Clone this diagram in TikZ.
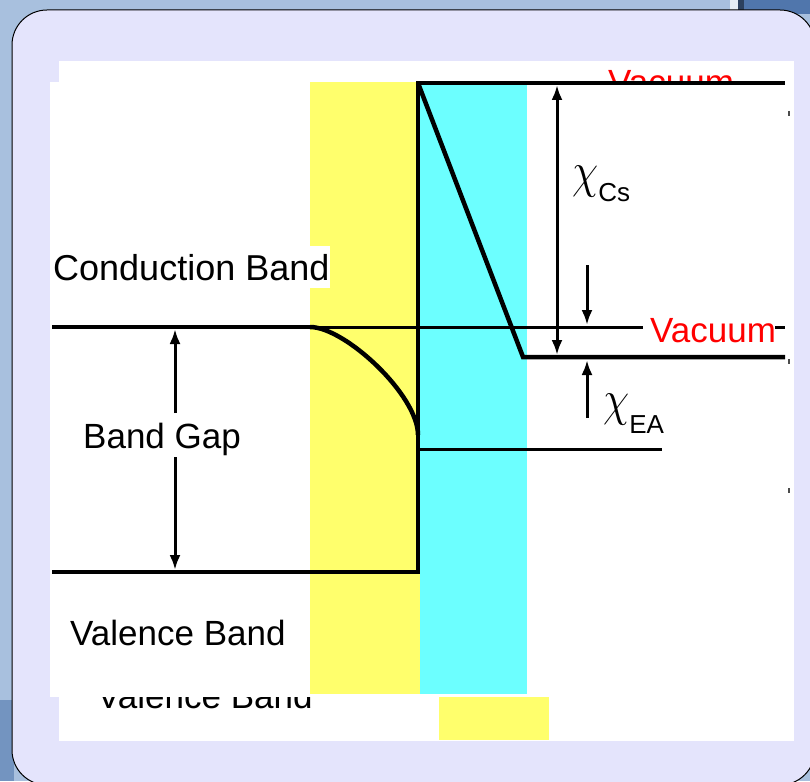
\documentclass[tikz,border=0pt]{standalone}
\usepackage{fix-cm}
\usepackage{fontspec}
\setmainfont{Liberation Sans}
\usetikzlibrary{arrows.meta}

\definecolor{slidebg}{RGB}{168,192,222}
\definecolor{slidedark}{RGB}{80,118,172}
\definecolor{panel}{RGB}{228,228,252}
\definecolor{csyellow}{RGB}{255,255,108}
\definecolor{diacyan}{RGB}{108,255,255}
\definecolor{vacred}{RGB}{255,0,0}

\begin{document}
\begin{tikzpicture}[
    x=1pt, y=-1pt,
    band/.style={line width=4.5pt},
    thinband/.style={line width=3pt},
    dim/.style={line width=3pt, -{Latex[length=15pt,width=11pt]}},
    dimboth/.style={line width=3pt, {Latex[length=15pt,width=11pt]}-{Latex[length=15pt,width=11pt]}},
    lbl/.style={font=\fontsize{35}{42}\selectfont, inner sep=0pt, anchor=base west},
    chilbl/.style={inner sep=0pt, anchor=base west},
    >=latex
]
\useasboundingbox (0,0) rectangle (810,781);
\clip (0,0) rectangle (810,781);

% --- slide background and panel ---
\fill[slidebg] (0,0) rectangle (810,781);
\fill[white!70!slidebg] (730,0) rectangle (738,14);
\fill[slidedark] (738,0) rectangle (810,14);
\fill[slidedark!55!black] (738,0) rectangle (744,14);
\fill[slidedark!60!slidebg] (0,700) rectangle (14,781);
\draw[fill=panel, line width=1pt, rounded corners=35pt] (12,10) rectangle (815,785);

% white cut-outs (pasted picture)
\fill[white] (59,61) rectangle (794,741);
\node[lbl, text=vacred] (vacTop) at (608,95) {Vacuum};
\node[lbl] (vbGhost) at (97,708) {Valence Band};
\fill[white] (50,82) rectangle (790,697);
\fill[csyellow] (439,697) rectangle (549,740);

% --- Cs layer and diamond surface ---
\fill[csyellow] (310,82) rectangle (420,694);
\fill[diacyan] (420,82) rectangle (527,694);

% Positions (band edges)
\coordinate (cbL) at (52,327);
\coordinate (bendS) at (310,327);
\coordinate (bendE) at (418,435);
\coordinate (vbL) at (52,572);
\coordinate (vbR) at (418,572);
\coordinate (stepTop) at (418,83);
\coordinate (vacCsR) at (785,83);
\coordinate (slopeEnd) at (523,357);
\coordinate (vacEAR) at (785,357);
\coordinate (vacL) at (643,327);
\coordinate (dashL) at (775,327);
\coordinate (dashR) at (785,327);
\coordinate (surfL) at (420,449);
\coordinate (surfR) at (662,449);

\draw[band] (cbL) -- (bendS);
\draw[thinband] (bendS) -- (vacL);
\draw[thinband] (dashL) -- (dashR);
\draw[band] (bendS) .. controls (345,327) and (418,395) .. (bendE);
\draw[band] (vbL) -- (vbR) -- (stepTop) -- (vacCsR);
\draw[band] (stepTop) -- (slopeEnd) -- (vacEAR);
\draw[thinband] (surfL) -- (surfR);

% --- labels ---
\node[lbl, font=\fontsize{36}{42}\selectfont, fill=white, inner xsep=1pt, inner ysep=8pt] (cbLbl) at (52,280) {Conduction Band};
\node[lbl] (gapLbl) at (83,448) {Band Gap};
\node[lbl] (vbLbl) at (70,645) {Valence Band};
\node[lbl, text=vacred] (vacLbl) at (650,342) {Vacuum};

% --- band gap and electron affinities ---
\coordinate (gapTop) at (175,329);
\coordinate (gapA) at (175,413);
\coordinate (gapB) at (175,457);
\coordinate (gapBot) at (175,570);
\draw[dim] (gapA) -- (gapTop);
\draw[dim] (gapB) -- (gapBot);

\coordinate (csTop) at (557,85);
\coordinate (csBot) at (557,355);
\draw[dimboth] (csTop) -- (csBot);
\node[chilbl] (chiCs) at (572,187) {\scalebox{0.85}[1]{\fontsize{50}{60}\selectfont$\chi$}\raisebox{-14pt}{\fontsize{26}{30}\selectfont Cs}};

\coordinate (eaDownT) at (587,265);
\coordinate (eaDownH) at (587,325);
\coordinate (eaUpT) at (587,418);
\coordinate (eaUpH) at (587,360);
\draw[dim] (eaDownT) -- (eaDownH);
\draw[dim] (eaUpT) -- (eaUpH);
\node[chilbl] (chiEA) at (603,415) {\scalebox{0.85}[1]{\fontsize{50}{60}\selectfont$\chi$}\raisebox{-18pt}{\fontsize{26}{30}\selectfont EA}};

% stray marks at the right edge
\draw[line width=1.2pt, black!70] (789,111) -- (789,116);
\draw[line width=1.2pt, black!70] (789,359) -- (789,364);
\draw[line width=1.2pt, black!70] (789,488) -- (789,493);

\end{tikzpicture}
\end{document}
